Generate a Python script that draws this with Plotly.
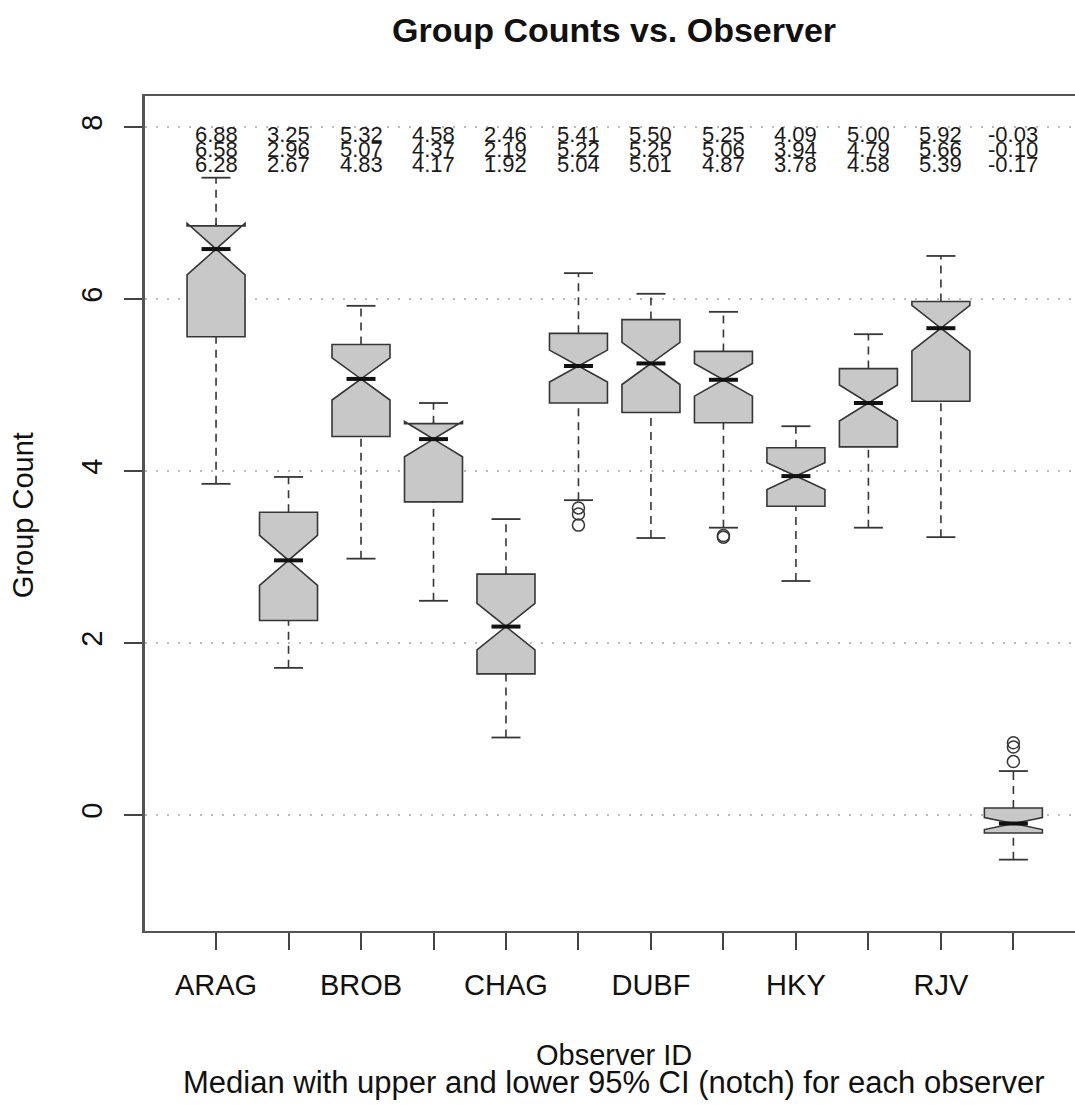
import plotly.graph_objects as go

# ---------------- data ----------------
tick_labels = ["ARAG", "", "BROB", "", "CHAG", "", "DUBF", "", "HKY", "", "RJV", ""]
positions = list(range(1, 13))

lower_whisker = [3.85, 1.71, 2.98, 2.49, 0.90, 3.66, 3.22, 3.34, 2.72, 3.34, 3.23, -0.52]
q1 = [5.56, 2.26, 4.40, 3.64, 1.64, 4.79, 4.68, 4.56, 3.59, 4.28, 4.81, -0.21]
median = [6.58, 2.96, 5.07, 4.37, 2.19, 5.22, 5.25, 5.06, 3.94, 4.79, 5.66, -0.10]
q3 = [6.85, 3.52, 5.47, 4.55, 2.80, 5.60, 5.76, 5.39, 4.27, 5.19, 5.97, 0.08]
upper_whisker = [7.41, 3.93, 5.92, 4.79, 3.44, 6.30, 6.06, 5.85, 4.52, 5.59, 6.50, 0.51]
ci_upper = [6.88, 3.25, 5.32, 4.58, 2.46, 5.41, 5.50, 5.25, 4.09, 5.00, 5.92, -0.03]
ci_lower = [6.28, 2.67, 4.83, 4.17, 1.92, 5.04, 5.01, 4.87, 3.78, 4.58, 5.39, -0.17]

outlier_x = [6, 6, 6, 8, 8, 12, 12, 12]
outlier_y = [3.57, 3.50, 3.37, 3.25, 3.23, 0.84, 0.79, 0.62]

title = "Group Counts vs. Observer"
x_title = "Observer ID"
sub_title = "Median with upper and lower 95% CI (notch) for each observer"
y_title = "Group Count"

# ---------------- styling ----------------
FONT = "Liberation Sans, Arial, Helvetica, sans-serif"
BOX_W = 0.8
HALF_NOTCH = BOX_W * 0.25
EDGE = "#363636"

notchspan = [(u - l) / 2 for u, l in zip(ci_upper, ci_lower)]

fig = go.Figure()

fig.add_trace(go.Box(
    x=positions, q1=q1, median=median, q3=q3,
    lowerfence=q1, upperfence=q3,
    notched=True, notchspan=notchspan, notchwidth=0.5,
    width=BOX_W, whiskerwidth=0,
    fillcolor="#C8C8C8", line=dict(color=EDGE, width=1.6),
    boxpoints=False, hoverinfo="skip", showlegend=False,
))

# dashed whiskers
wx, wy = [], []
for p, a, b, c, d in zip(positions, lower_whisker, q1, q3, upper_whisker):
    wx += [p, p, None, p, p, None]
    wy += [a, b, None, c, d, None]
fig.add_trace(go.Scatter(x=wx, y=wy, mode="lines",
                         line=dict(color=EDGE, width=1.6, dash="8px,6px"),
                         hoverinfo="skip", showlegend=False))

# staples
sx, sy = [], []
for p, a, d in zip(positions, lower_whisker, upper_whisker):
    sx += [p - HALF_NOTCH, p + HALF_NOTCH, None, p - HALF_NOTCH, p + HALF_NOTCH, None]
    sy += [a, a, None, d, d, None]
fig.add_trace(go.Scatter(x=sx, y=sy, mode="lines",
                         line=dict(color=EDGE, width=1.8),
                         hoverinfo="skip", showlegend=False))

# thick medians
mx, my = [], []
for p, m in zip(positions, median):
    mx += [p - HALF_NOTCH, p + HALF_NOTCH, None]
    my += [m, m, None]
fig.add_trace(go.Scatter(x=mx, y=my, mode="lines",
                         line=dict(color="#111111", width=4),
                         hoverinfo="skip", showlegend=False))

# outliers
fig.add_trace(go.Scatter(x=outlier_x, y=outlier_y, mode="markers",
                         marker=dict(symbol="circle-open", size=12,
                                     color=EDGE, line=dict(width=1.5, color=EDGE)),
                         hoverinfo="skip", showlegend=False))

# CI / median labels at top
for p, u, m, l in zip(positions, ci_upper, median, ci_lower):
    for val, yy in ((u, 7.907), (m, 7.733), (l, 7.558)):
        fig.add_annotation(x=p, y=yy, xref="x", yref="y", text=f"{val:.2f}",
                           showarrow=False, xanchor="center", yanchor="middle",
                           font=dict(family=FONT, size=22, color="#1a1a1a"))

# axis titles
fig.add_annotation(x=0.5043, y=-0.1485, xref="paper", yref="paper", text=x_title,
                   showarrow=False, xanchor="center", yanchor="middle",
                   font=dict(family=FONT, size=29, color="#111"))
fig.add_annotation(x=0.5043, y=-0.182, xref="paper", yref="paper", text=sub_title,
                   showarrow=False, xanchor="center", yanchor="middle",
                   font=dict(family=FONT, size=31, color="#111"))
fig.add_annotation(x=-0.1312, y=0.498, xref="paper", yref="paper", text=y_title,
                   showarrow=False, textangle=-90, xanchor="center", yanchor="middle",
                   font=dict(family=FONT, size=29, color="#111"))

fig.update_layout(
    width=1075, height=1105,
    margin=dict(l=145, r=0, t=96, b=174),
    paper_bgcolor="white", plot_bgcolor="white",
    font=dict(family=FONT, size=29, color="#111"),
    title=dict(text=f"<b>{title}</b>", x=0.5712, xanchor="center",
               y=1 - 30 / 1105, yanchor="middle",
               font=dict(family=FONT, size=34, color="#111")),
    showlegend=False,
)

fig.update_xaxes(
    range=[0.02, 12.85], tickmode="array", tickvals=positions, ticktext=tick_labels,
    showgrid=False, zeroline=False,
    showline=True, linecolor="#555", linewidth=2.2, mirror=True,
    ticks="outside", ticklen=17, tickwidth=1.6, tickcolor="#444",
    ticklabelstandoff=10,
    tickfont=dict(family=FONT, size=29, color="#111"),
)
fig.update_yaxes(
    range=[-1.35, 8.36], tickmode="array", tickvals=[0, 2, 4, 6, 8],
    ticktext=["0", "2", "4", "6", "8"], tickangle=-90,
    showgrid=True, gridcolor="#BBBBBB", gridwidth=1.5, griddash="2px,9px",
    zeroline=False,
    showline=True, linecolor="#555", linewidth=2.5, mirror=False,
    ticks="outside", ticklen=18, tickwidth=1.6, tickcolor="#444",
    ticklabelstandoff=11,
    tickfont=dict(family=FONT, size=29, color="#111"),
)

fig.write_html(
    "out.html",
    config={"displayModeBar": False},
    post_script="document.body.style.margin='0';document.body.style.overflow='hidden';",
)
